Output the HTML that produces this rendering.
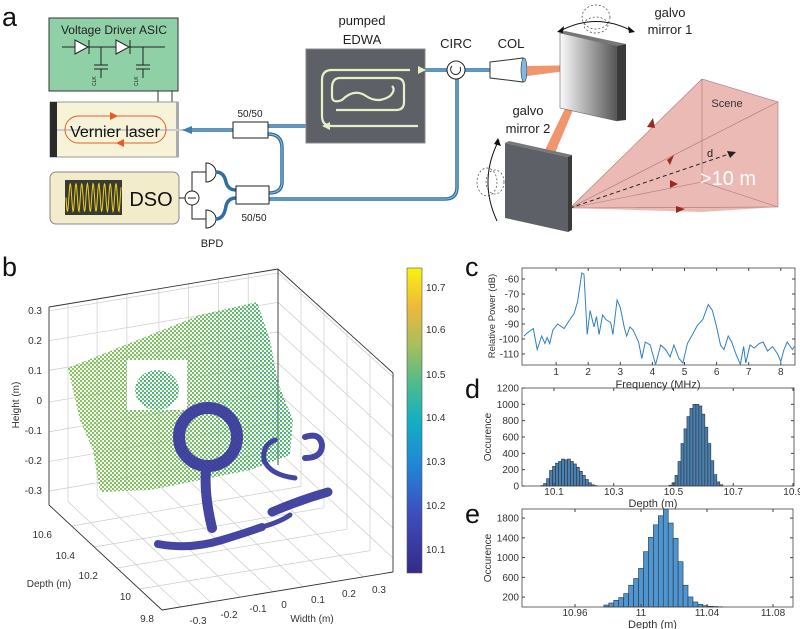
<!DOCTYPE html>
<html><head><meta charset="utf-8"><style>
html,body{margin:0;padding:0;background:#fff}
svg{display:block;font-family:"Liberation Sans",sans-serif}
.t{font-size:10px;fill:#333}
</style></head><body>
<svg id="fig" width="800" height="629" viewBox="0 0 800 629">
<defs>
<linearGradient id="mir1" x1="0" x2="1" y1="0" y2="0"><stop offset="0" stop-color="#fafafa"/><stop offset="1" stop-color="#555"/></linearGradient>
<linearGradient id="parula" x1="0" x2="0" y1="1" y2="0">
<stop offset="0" stop-color="#352a87"/><stop offset="0.2" stop-color="#3d4fc0"/><stop offset="0.35" stop-color="#1f86d6"/><stop offset="0.5" stop-color="#12b0c2"/><stop offset="0.62" stop-color="#4dbc8c"/><stop offset="0.75" stop-color="#a8bf5b"/><stop offset="0.87" stop-color="#eeb83a"/><stop offset="1" stop-color="#f9f20f"/></linearGradient>
<pattern id="dotsG" width="4" height="4" patternUnits="userSpaceOnUse"><circle cx="1" cy="1" r="1.15" fill="#3fae7c"/><circle cx="3" cy="3" r="1.15" fill="#5cb868"/></pattern>
<pattern id="dotsY" width="4" height="4" patternUnits="userSpaceOnUse"><circle cx="1" cy="1" r="1.15" fill="#a4c450"/><circle cx="3" cy="3" r="1.15" fill="#8cc25a"/></pattern>
<linearGradient id="fadeY" x1="0" x2="1"><stop offset="0" stop-color="#fff"/><stop offset="0.4" stop-color="#fff" stop-opacity="0.6"/><stop offset="0.6" stop-color="#fff" stop-opacity="0"/></linearGradient>
<mask id="leftMask"><rect x="0" y="250" width="460" height="379" fill="url(#fadeY)"/></mask>
<clipPath id="clipC"><rect x="522" y="268" width="273" height="97"/></clipPath>
</defs>

<!-- ============ PANEL A ============ -->
<g>
<text x="2" y="26" font-size="27" fill="#111">a</text>
<g>
<rect x="49" y="18" width="129" height="73" fill="#8fd0a6" stroke="#333" stroke-width="1"/>
<text x="114" y="34" font-size="12" text-anchor="middle" fill="#222">Voltage Driver ASIC</text>
<g stroke="#222" stroke-width="1" fill="#fff">
<line x1="62" y1="47" x2="165" y2="47"/>
<polygon points="75,40 75,54 88,47"/><line x1="89" y1="40" x2="89" y2="54"/>
<polygon points="116,40 116,54 129,47"/><line x1="130" y1="40" x2="130" y2="54"/>
<line x1="101" y1="47" x2="101" y2="65"/><line x1="94" y1="65" x2="108" y2="65"/><line x1="94" y1="69" x2="108" y2="69"/><line x1="101" y1="69" x2="101" y2="78"/>
<line x1="143" y1="47" x2="143" y2="65"/><line x1="136" y1="65" x2="150" y2="65"/><line x1="136" y1="69" x2="150" y2="69"/><line x1="143" y1="69" x2="143" y2="78"/>
</g>
<text x="96" y="86" font-size="5" fill="#222" transform="rotate(-90 96 86)">CLK</text>
<text x="138" y="86" font-size="5" fill="#222" transform="rotate(-90 138 86)">CLK</text>
</g>
<line x1="158" y1="91" x2="158" y2="103" stroke="#333"/><line x1="172" y1="91" x2="172" y2="103" stroke="#333"/>
<g>
<rect x="50" y="102" width="128" height="55" fill="#f7f3d8" stroke="#999"/>
<rect x="50" y="102" width="7" height="55" fill="#2a2a2a"/>
<rect x="176" y="102" width="3" height="55" fill="#aaa"/>
<line x1="57" y1="130" x2="185" y2="130" stroke="#ccc" stroke-width="2"/>
<rect x="65" y="116" width="101" height="27" rx="13.5" fill="none" stroke="#e0602a" stroke-width="1"/>
<polygon points="110,112 118,116 110,120" fill="#e85a20"/><polygon points="124,139 116,143 124,147" fill="#e85a20"/>
<text x="115" y="137" font-size="16" text-anchor="middle" fill="#111">Vernier laser</text>
</g>
<g>
<rect x="50" y="172" width="129" height="52" rx="6" fill="#f3ecca" stroke="#888"/>
<rect x="65" y="180" width="57" height="35" fill="#3a3a30"/>
<path id="sine" d="" fill="none" stroke="#e8d020" stroke-width="1"/>
<text x="151" y="206" font-size="20" text-anchor="middle" fill="#111">DSO</text>
</g>
<g stroke="#222" fill="#fff" stroke-width="1">
<line x1="179" y1="198" x2="185" y2="198"/>
<circle cx="192" cy="198" r="7"/><line x1="188" y1="198" x2="196" y2="198"/>
<polyline points="192,191 192,172 206,172" fill="none"/><polyline points="192,205 192,219 206,219" fill="none"/>
<path d="M206,163 A10,9.5 0 0 1 206,182 Z"/><path d="M206,210 A10,9 0 0 1 206,228 Z"/>
</g>
<text x="212" y="247" font-size="11" text-anchor="middle" fill="#222">BPD</text>
<g fill="none">
<g stroke="#2f6f9f" stroke-width="3.5">
<path d="M188,130 L233,130"/><path d="M268,126 L306,126"/>
<path d="M268,134 Q282,134 282,148 L282,182 Q282,193 269,193"/>
<path d="M216,172 Q224,172 226,182 Q228,190 236,190"/><path d="M216,219 Q224,219 226,206 Q228,198 236,198"/>
<path d="M269,199 L445,199 Q457,199 457,187 L457,78"/>
<path d="M425,70 L447,70"/><path d="M465,70 L490,70"/>
</g>
<g stroke="#8fc0e0" stroke-width="1">
<path d="M188,130 L233,130"/><path d="M268,126 L306,126"/>
<path d="M268,134 Q282,134 282,148 L282,182 Q282,193 269,193"/>
<path d="M269,199 L445,199 Q457,199 457,187 L457,78"/>
<path d="M425,70 L447,70"/><path d="M465,70 L490,70"/>
</g>
<polygon points="182,130 192,126 192,134" fill="#3a7fb5"/>
</g>
<g><rect x="233" y="122" width="35" height="16" fill="#fff" stroke="#222"/>
<text x="250" y="117" font-size="10" text-anchor="middle" fill="#222">50/50</text></g>
<g><rect x="236" y="186" width="33" height="18" fill="#fff" stroke="#222"/>
<text x="254" y="221" font-size="10" text-anchor="middle" fill="#222">50/50</text></g>
<g>
<rect x="306" y="49" width="119" height="94" fill="#5d6167" stroke="#888"/>
<g fill="none" stroke="#e8f0c8" stroke-width="2.2">
<path d="M418,126 L332,126 Q322,126 322,116 L322,80 Q322,70 332,70 L410,70"/>
<path d="M336,110 L396,110 Q404,110 404,102 L404,86 Q404,78 396,78 L340,78 Q332,78 332,88 L332,96 Q332,104 342,100 Q354,88 366,96 Q378,104 390,96 Q396,90 392,86"/>
</g>
<polygon points="418,66 426,70 418,74" fill="#e8f0c8"/><polygon points="330,122 322,126 330,130" fill="#e8f0c8"/>
<text x="362" y="25" font-size="13" text-anchor="middle" fill="#222">pumped</text>
<text x="362" y="44" font-size="13" text-anchor="middle" fill="#222">EDWA</text>
</g>
<g>
<circle cx="456" cy="70" r="9" fill="#fff" stroke="#222"/><path d="M452,66 A5,5 0 1 0 460,67" fill="none" stroke="#222"/>
<text x="456" y="48" font-size="13" text-anchor="middle" fill="#222">CIRC</text></g>
<g>
<polygon points="490,62 523,58 523,82 490,78" fill="#fff" stroke="#333"/><ellipse cx="524" cy="70" rx="3" ry="12" fill="#7fb8e0" stroke="#333" stroke-width="0.6"/>
<text x="511" y="48" font-size="13" text-anchor="middle" fill="#222">COL</text></g>
<g fill="#f08a5d" opacity="0.9">
<polygon points="527,66 589,65 589,68 527,76"/><polygon points="586,65 591,67 555,153 545,150"/>
</g>
<g>
<polygon points="560,33 617,46 617,121 560,108" fill="url(#mir1)" stroke="#666" stroke-width="0.6"/>
<polygon points="560,33 565,31 626,44 617,46" fill="#777"/><polygon points="617,46 626,44 626,120 617,121" fill="#3a3a3a"/>
<ellipse cx="596" cy="17" rx="14" ry="12" fill="none" stroke="#444" stroke-dasharray="2,2" stroke-width="0.7"/>
<ellipse cx="596" cy="25" rx="12" ry="8" fill="none" stroke="#444" stroke-dasharray="2,2" stroke-width="0.7"/>
<path d="M560,31 Q596,12 632,31" fill="none" stroke="#111"/>
<polygon points="557,32 564,26 563,33" fill="#111"/><polygon points="635,32 628,26 629,33" fill="#111"/>
<text x="670" y="17" font-size="13" text-anchor="middle" fill="#222">galvo</text>
<text x="670" y="34" font-size="13" text-anchor="middle" fill="#222">mirror 1</text>
</g>
<g>
<polygon points="570,208 702,79 778,102 778,207 702,212" fill="#e9b3ad" opacity="0.9"/>
<g stroke="#a77" stroke-width="0.6" fill="none">
<polyline points="570,208 702,79 778,102 778,207 570,208"/><line x1="702" y1="79" x2="702" y2="182"/><line x1="702" y1="182" x2="778" y2="207"/><line x1="570" y1="208" x2="778" y2="102"/><line x1="570" y1="208" x2="702" y2="182"/>
</g>
<line x1="570" y1="208" x2="732" y2="153" stroke="#222" stroke-dasharray="4,3"/><polygon points="736,152 727,151 730,158" fill="#222"/>
<g fill="#9a2a20"><polygon points="647,127 653,118 655,128"/><polygon points="667,160 674,155 670,165"/><polygon points="670,180 678,184 670,188"/><polygon points="676,206 685,209 676,213"/></g>
<text x="727" y="107" font-size="11" text-anchor="middle" fill="#333">Scene</text>
<text x="710" y="157" font-size="11" text-anchor="middle" fill="#222">d</text>
<text x="728" y="185" font-size="20" text-anchor="middle" fill="#fff">&gt;10 m</text>
</g>
<g>
<polygon points="505,143 568,157 568,232 505,218" fill="#5d6167"/><polygon points="505,143 509,141 572,155 568,157" fill="#777"/><polygon points="568,157 572,155 572,230 568,232" fill="#3a3a3a"/>
<ellipse cx="487" cy="182" rx="10" ry="14" fill="none" stroke="#444" stroke-dasharray="2,2" stroke-width="0.7"/>
<ellipse cx="495" cy="182" rx="9" ry="12" fill="none" stroke="#444" stroke-dasharray="2,2" stroke-width="0.7"/>
<path d="M499,140 Q478,180 497,221" fill="none" stroke="#111"/><polygon points="498,138 501,146 494,144" fill="#111"/>
<text x="528" y="115" font-size="13" text-anchor="middle" fill="#222">galvo</text>
<text x="528" y="133" font-size="13" text-anchor="middle" fill="#222">mirror 2</text>
</g>
</g>

<!-- ============ PANEL B ============ -->
<g id="panelB">
<text x="2" y="276" font-size="27" fill="#111">b</text>
<g id="box3d" stroke="#ccc" stroke-width="0.7" fill="none"></g>
<g>
<polygon points="68,368 150,335 200,315 257,302 270,340 278,383 293,420 290,455 250,470 200,480 150,490 100,492 93,450 80,420" fill="url(#dotsG)"/>
<polygon points="68,368 150,335 200,315 257,302 270,340 278,383 293,420 290,455 250,470 200,480 150,490 100,492 93,450 80,420" fill="url(#dotsY)" mask="url(#leftMask)"/>
<rect x="127" y="360" width="60" height="50" fill="#fff"/>
<ellipse cx="157" cy="390" rx="22" ry="20" fill="url(#dotsG)"/>
</g>
<g fill="none" stroke="#3c3c9e" stroke-linecap="round" opacity="0.95">
<ellipse cx="208" cy="437" rx="29" ry="29" stroke-width="12"/>
<path d="M206,470 Q204,495 212,528" stroke-width="10"/>
<path d="M158,544 Q190,550 222,540 Q245,533 262,527" stroke-width="8"/>
<path d="M262,527 Q280,522 290,515" stroke-width="5"/>
<path d="M305,437 Q320,432 322,445 Q322,458 305,458" stroke-width="6"/>
<path d="M275,440 Q262,445 264,460 Q270,475 295,478" stroke-width="5"/>
<path d="M272,512 Q300,500 328,492" stroke-width="9"/>
</g>
<g class="t" font-size="10">
<text x="42" y="314" text-anchor="end">0.3</text><text x="42" y="344" text-anchor="end">0.2</text><text x="42" y="374" text-anchor="end">0.1</text><text x="42" y="404" text-anchor="end">0</text><text x="42" y="434" text-anchor="end">-0.1</text><text x="42" y="464" text-anchor="end">-0.2</text><text x="42" y="494" text-anchor="end">-0.3</text>
<text x="52" y="538" text-anchor="end">10.6</text><text x="75" y="559" text-anchor="end">10.4</text><text x="98" y="579" text-anchor="end">10.2</text><text x="131" y="600" text-anchor="end">10</text><text x="154" y="622" text-anchor="end">9.8</text>
<text x="198" y="624" text-anchor="middle">-0.3</text><text x="229" y="618" text-anchor="middle">-0.2</text><text x="258" y="612" text-anchor="middle">-0.1</text><text x="284" y="608" text-anchor="middle">0</text><text x="318" y="603" text-anchor="middle">0.1</text><text x="349" y="597" text-anchor="middle">0.2</text><text x="379" y="593" text-anchor="middle">0.3</text>
<text x="49" y="587" text-anchor="middle">Depth (m)</text>
<text x="312" y="622" text-anchor="middle">Width (m)</text>
<text x="19" y="405" text-anchor="middle" transform="rotate(-90 19 405)">Height (m)</text>
</g>
<g>
<rect x="407" y="268" width="15" height="305" fill="url(#parula)" stroke="#555" stroke-width="0.6"/>
<g class="t"><text x="426" y="291">10.7</text><text x="426" y="333">10.6</text><text x="426" y="378">10.5</text><text x="426" y="421">10.4</text><text x="426" y="465">10.3</text><text x="426" y="509">10.2</text><text x="426" y="553">10.1</text></g>
</g>
</g>

<!-- ============ PANELS C D E ============ -->
<text x="465" y="276" font-size="27" fill="#111">c</text>
<text x="465" y="398" font-size="27" fill="#111">d</text>
<text x="465" y="523" font-size="27" fill="#111">e</text>
<g id="chartC"></g>
<g id="chartD"></g>
<g id="chartE"></g>
</svg>

<script>
// ---- Panel c data ----
const freqMHz = [0,0.1,0.29,0.41,0.55,0.65,0.72,0.8,0.9,1.05,1.25,1.4,1.56,1.67,1.8,1.87,1.97,2.06,2.18,2.26,2.34,2.45,2.55,2.7,2.77,2.9,3.0,3.13,3.2,3.3,3.4,3.57,3.67,3.78,3.93,4.1,4.26,4.41,4.55,4.67,4.83,4.95,5.09,5.25,5.4,5.57,5.74,5.87,6.0,6.12,6.23,6.36,6.47,6.6,6.74,6.84,6.91,7.04,7.17,7.33,7.45,7.59,7.74,7.9,8.0,8.1,8.2,8.36,8.42];
const powerDb = [-98,-96,-93,-107,-98,-103,-99,-103,-94,-90,-93,-88,-83,-75,-56,-57,-97,-81,-92,-85,-97,-84,-87,-89,-97,-74,-79,-93,-98,-92,-94,-102,-113,-102,-104,-117,-104,-107,-112,-104,-113,-116,-103,-97,-91,-87,-77,-81,-92,-104,-107,-98,-102,-110,-117,-105,-116,-104,-106,-103,-102,-108,-105,-110,-115,-107,-102,-107,-105];
const cXTicks = [1,2,3,4,5,6,7,8];
const cYTicks = [-60,-70,-80,-90,-100,-110];
// ---- Panel d data ----
const dDepth = [10.06,10.07,10.08,10.09,10.10,10.11,10.12,10.13,10.14,10.15,10.16,10.17,10.18,10.19,10.20,10.21,10.22,10.23,10.24,10.49,10.50,10.51,10.52,10.53,10.54,10.55,10.56,10.57,10.58,10.59,10.60,10.61,10.62,10.63,10.64,10.65,10.66];
const dCount = [5,30,90,190,240,280,300,330,320,330,300,270,230,180,130,80,40,15,5,10,40,130,300,520,700,850,950,1000,1000,980,880,720,520,310,140,50,15];
const dXTicks = [10.1,10.3,10.5,10.7,10.9];
const dYTicks = [0,200,400,600,800,1000,1200];
// ---- Panel e data ----
const eDepth = [10.979,10.982,10.985,10.988,10.991,10.994,10.997,11.000,11.003,11.006,11.009,11.012,11.015,11.018,11.021,11.024,11.027,11.030,11.033,11.036,11.039,11.042,11.045,11.048];
const eCount = [40,81,136,190,272,441,577,781,1120,1412,1664,1847,1983,1700,1390,917,441,204,102,54,27,14,10,5];
const eXTicks = [10.96,11,11.04,11.08];
const eYTicks = [200,600,1000,1400,1800];

const NS = "http://www.w3.org/2000/svg";
function mk(tag, attrs, parent){const e=document.createElementNS(NS,tag);for(const k in attrs)e.setAttribute(k,attrs[k]);parent.appendChild(e);return e;}

// DSO sine
(function(){let d="";for(let i=0;i<=110;i++){const x=66+i*0.5;const y=197.5+14*Math.sin(i*0.55);d+=(i?"L":"M")+x.toFixed(1)+","+y.toFixed(1);}document.getElementById('sine').setAttribute('d',d);})();

// 3D box grid
(function(){
const g=document.getElementById('box3d');
function bil(P,u,v){const [a,b,c,d]=P;const top=[a[0]+(b[0]-a[0])*u,a[1]+(b[1]-a[1])*u];const bot=[d[0]+(c[0]-d[0])*u,d[1]+(c[1]-d[1])*u];return [top[0]+(bot[0]-top[0])*v,top[1]+(bot[1]-top[1])*v];}
function ln(p,q){const l=mk('line',{x1:p[0],y1:p[1],x2:q[0],y2:q[1]},g);}
const L=[[49,307],[278,269],[278,465],[49,505]];
const R=[[278,269],[393,373],[393,572],[278,465]];
const F=[[49,505],[278,465],[393,572],[162,610]];
const wU=[0.083,0.21,0.34,0.48,0.61,0.74,0.87];
const hV=[0.02,0.17,0.32,0.48,0.63,0.78,0.93];
const dU=[0.2,0.4,0.6,0.8];
wU.forEach(u=>{ln(bil(L,u,0),bil(L,u,1));ln(bil(F,u,0),bil(F,u,1));});
hV.forEach(v=>{ln(bil(L,0,v),bil(L,1,v));ln(bil(R,0,v),bil(R,1,v));});
dU.forEach(u=>{ln(bil(R,u,0),bil(R,u,1));const p=[F[0][0]+(F[3][0]-F[0][0])*u,F[0][1]+(F[3][1]-F[0][1])*u];const q=[F[1][0]+(F[2][0]-F[1][0])*u,F[1][1]+(F[2][1]-F[1][1])*u];ln(p,q);});
const ax=mk('g',{stroke:'#333','stroke-width':0.9},g);
[[L[0],L[1]],[L[1],R[1]],[R[1],R[2]],[L[0],L[3]],[L[3],F[3]],[F[3],R[2]],[L[1],L[2]]].forEach(s=>{mk('line',{x1:s[0][0],y1:s[0][1],x2:s[1][0],y2:s[1][1]},ax);});
})();

function frame(g,x0,y0,x1,y1){const r=mk('rect',{x:x0,y:y0,width:x1-x0,height:y1-y0,fill:'none',stroke:'#444','stroke-width':0.8},g);}
function txt(g,x,y,s,anchor,extra){const t=mk('text',Object.assign({x:x,y:y,'font-size':10,fill:'#333','text-anchor':anchor},extra||{}),g);t.textContent=s;return t;}

// ---- Chart C ----
(function(){
const g=document.getElementById('chartC');
const X0=522,X1=795,Y0=268,Y1=365;
const xs=f=>524+f*32.1, ys=d=>279+(-60-d)*1.5;
frame(g,X0,Y0,X1,Y1);
cXTicks.forEach(v=>{const x=xs(v);mk('line',{x1:x,y1:Y1,x2:x,y2:Y1-3,stroke:'#444'},g);mk('line',{x1:x,y1:Y0,x2:x,y2:Y0+3,stroke:'#444'},g);const t=txt(g,x,375,String(v),'middle');});
cYTicks.forEach(v=>{const y=ys(v);mk('line',{x1:X0,y1:y,x2:X0+3,y2:y,stroke:'#444'},g);mk('line',{x1:X1,y1:y,x2:X1-3,y2:y,stroke:'#444'},g);const t=txt(g,519,y+3.5,String(v),'end');});
let d="";freqMHz.forEach((f,i)=>{d+=(i?"L":"M")+xs(f).toFixed(1)+","+ys(powerDb[i]).toFixed(1);});
const p=mk('path',{d:d,fill:'none',stroke:'#2f7fc4','stroke-width':1,'clip-path':'url(#clipC)'},g);


const xt=txt(g,658,388,'Frequency (MHz)','middle',{'font-size':11});


const yt=txt(g,495,316,'Relative Power (dB)','middle',{'font-size':9.5,transform:'rotate(-90 495 316)'});


})();

// ---- Histograms ----
function hist(id,cats,vals,xt,yt,X0,X1,Y0,Y1,xs,ys,bw,fill,tickY,titleY){
const g=document.getElementById(id);
cats.forEach((c,i)=>{const x=xs(c-bw/2),w=xs(c+bw/2)-x,y=ys(vals[i]);const r=mk('rect',{x:x.toFixed(2),y:y.toFixed(2),width:w.toFixed(2),height:(Y1-y).toFixed(2),fill:fill,stroke:'#2a3440','stroke-width':0.6},g);});
frame(g,X0,Y0,X1,Y1);
xt.forEach(v=>{const x=xs(v);mk('line',{x1:x,y1:Y1,x2:x,y2:Y1-3,stroke:'#444'},g);mk('line',{x1:x,y1:Y0,x2:x,y2:Y0+3,stroke:'#444'},g);const t=txt(g,x,tickY,String(v),'middle');});
yt.forEach(v=>{const y=ys(v);mk('line',{x1:X0,y1:y,x2:X0+3,y2:y,stroke:'#444'},g);mk('line',{x1:X1,y1:y,x2:X1-3,y2:y,stroke:'#444'},g);const t=txt(g,519,y+3.5,String(v),'end');});
const a=txt(g,(X0+X1)/2-5,titleY,'Depth (m)','middle',{'font-size':11});


const cy=(Y0+Y1)/2;
const b=txt(g,491,cy,'Occurence','middle',{'font-size':10,transform:'rotate(-90 491 '+cy+')'});


}
hist('chartD',dDepth,dCount,dXTicks,dYTicks,522,794,388,486,v=>554+(v-10.1)*298.75,n=>486-n*98/1200,0.01,'#4a7fae',495,507);
hist('chartE',eDepth,eCount,eXTicks,eYTicks,522,793,509,607,v=>575+(v-10.96)*1650,n=>607-n*0.0494,0.003,'#4f95d0',616,628);
</script>
</body></html>
